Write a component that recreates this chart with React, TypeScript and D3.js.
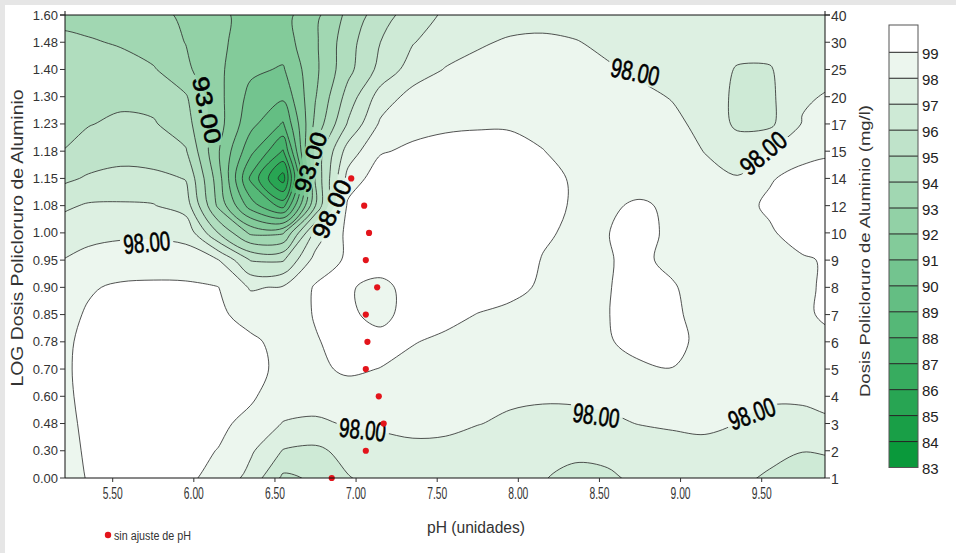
import React from 'react';
import * as d3 from 'd3';

const W = 956;
const H = 553;

// Dose levels of polyaluminium chloride (rows of the response grid, bottom to top)
const doseMg = [1, 2, 3, 4, 5, 6, 7, 8, 9, 10, 12, 14, 15, 17, 20, 25, 30, 40];
const doseLog = ['0.00', '0.30', '0.48', '0.60', '0.70', '0.78', '0.85', '0.90', '0.95', '1.00', '1.08', '1.15', '1.18', '1.23', '1.30', '1.40', '1.48', '1.60'];

// pH columns of the response grid
const phGrid = [5.15, 5.35, 5.55, 5.75, 5.95, 6.15, 6.35, 6.55, 6.75, 6.95, 7.15, 7.35, 7.55, 7.75, 7.95, 8.15, 8.35, 8.55, 8.75, 8.95, 9.15, 9.35, 9.55, 9.75, 9.95];

// Removal (%) along the pH columns, one array per dose level
const dose1mg = [98.55, 99.05, 99.25, 99.25, 99.15, 98.75, 97.65, 95.8, 96.15, 96.95, 97.3, 97.45, 97.45, 97.35, 97.2, 97.05, 96.75, 96.85, 97.2, 97.35, 97.3, 97.15, 96.9, 96.65, 96.6];
const dose2mg = [98.65, 99.1, 99.3, 99.3, 99.2, 98.98, 98.15, 96.95, 96.8, 97.3, 97.55, 97.7, 97.6, 97.55, 97.45, 97.3, 97.2, 97.25, 97.45, 97.55, 97.55, 97.45, 97.2, 97.02, 97.1];
const dose3mg = [98.7, 99.15, 99.4, 99.4, 99.3, 99.15, 98.8, 97.95, 97.8, 98.1, 98.2, 98.35, 98.35, 98.03, 97.85, 97.75, 97.75, 97.85, 98.03, 98.15, 98.3, 97.98, 97.8, 97.8, 97.9];
const dose4mg = [98.75, 99.2, 99.5, 99.55, 99.5, 99.35, 99.1, 98.6, 98.55, 98.65, 98.6, 98.45, 98.35, 98.25, 98.15, 98.1, 98.12, 98.2, 98.3, 98.35, 98.3, 98.2, 98.1, 98.1, 98.2];
const dose5mg = [98.8, 99.2, 99.5, 99.55, 99.55, 99.45, 99.25, 98.8, 98.85, 99.12, 98.98, 98.7, 98.55, 98.5, 98.45, 98.4, 98.45, 98.6, 98.85, 98.98, 98.6, 98.45, 98.4, 98.45, 98.5];
const dose6mg = [98.75, 99.2, 99.45, 99.5, 99.5, 99.4, 99.15, 98.75, 98.95, 99.25, 99.3, 99.05, 98.8, 98.7, 98.6, 98.55, 98.7, 98.92, 99.3, 99.3, 98.7, 98.5, 98.5, 98.7, 98.85];
const dose7mg = [98.6, 99.1, 99.35, 99.45, 99.4, 99.15, 98.7, 98.6, 99.05, 99.15, 98.75, 99.35, 99.3, 98.97, 98.75, 98.6, 98.6, 98.97, 99.4, 99.2, 98.6, 98.4, 98.5, 98.9, 99.15];
const dose8mg = [98.5, 98.9, 99.15, 99.2, 99.2, 99.02, 97.9, 98.1, 99.1, 99.1, 98.7, 99.4, 99.55, 99.5, 99.3, 98.85, 98.6, 98.95, 99.35, 99.1, 98.5, 98.3, 98.4, 98.85, 99.2];
const dose9mg = [97.95, 98.25, 98.4, 98.45, 98.35, 98.05, 95.95, 95.9, 98.4, 99.15, 99.55, 99.7, 99.75, 99.75, 99.6, 98.95, 98.65, 98.95, 99.2, 98.75, 98.4, 98.35, 98.5, 98.85, 99.2];
const dose10mg = [97.35, 97.75, 97.85, 97.85, 97.75, 95.0, 92.8, 92.9, 97.3, 99.3, 99.7, 99.8, 99.85, 99.85, 99.8, 99.15, 98.8, 98.98, 99.3, 98.8, 98.45, 98.55, 98.85, 99.55, 99.7];
const dose12mg = [96.75, 97.1, 97.1, 97.05, 96.55, 92.8, 89.5, 87.6, 94.0, 99.2, 99.65, 99.75, 99.8, 99.8, 99.75, 99.45, 98.85, 98.85, 99.15, 98.8, 98.5, 98.6, 99.2, 99.6, 99.7];
const dose14mg = [95.6, 96.15, 96.4, 96.35, 95.95, 92.5, 87.8, 84.5, 94.2, 98.35, 99.6, 99.6, 99.65, 99.7, 99.65, 99.4, 98.85, 98.6, 98.5, 98.4, 98.2, 98.05, 98.9, 99.4, 99.5];
const dose15mg = [94.95, 95.25, 95.5, 95.3, 95.1, 92.1, 89.3, 86.9, 94.3, 97.45, 98.9, 99.2, 99.3, 99.35, 99.3, 99.02, 98.75, 98.6, 98.45, 98.3, 97.98, 97.6, 98.05, 98.6, 98.8];
const dose17mg = [94.8, 94.97, 95.12, 95.1, 94.4, 92.4, 90.3, 88.9, 93.3, 96.1, 98.15, 98.65, 98.85, 98.9, 98.9, 98.8, 98.7, 98.55, 98.4, 98.2, 97.75, 96.8, 96.8, 98.05, 98.4];
const dose20mg = [94.55, 94.75, 94.85, 94.65, 94.1, 92.3, 90.7, 90.2, 92.95, 95.4, 97.45, 98.35, 98.55, 98.6, 98.6, 98.55, 98.45, 98.35, 98.2, 97.95, 97.55, 96.8, 96.8, 97.9, 98.1];
const dose25mg = [94.35, 94.45, 94.4, 94.1, 93.2, 92.2, 91.2, 90.9, 92.8, 94.7, 96.3, 97.45, 98.05, 98.25, 98.35, 98.35, 98.25, 98.1, 97.85, 97.55, 97.35, 96.95, 96.95, 97.45, 97.75];
const dose30mg = [94.15, 94.1, 93.9, 93.45, 92.98, 92.25, 91.45, 91.5, 92.85, 94.6, 96.0, 96.95, 97.5, 97.9, 98.1, 98.15, 98.05, 97.8, 97.55, 97.4, 97.35, 97.25, 97.25, 97.45, 97.65];
const dose40mg = [93.8, 93.6, 93.45, 93.25, 92.85, 92.25, 91.6, 91.65, 92.75, 94.25, 95.55, 96.5, 97.15, 97.45, 97.65, 97.7, 97.6, 97.45, 97.35, 97.3, 97.3, 97.3, 97.3, 97.4, 97.5];

const removalRows = [dose1mg, dose2mg, dose3mg, dose4mg, dose5mg, dose6mg, dose7mg, dose8mg, dose9mg, dose10mg, dose12mg, dose14mg, dose15mg, dose17mg, dose20mg, dose25mg, dose30mg, dose40mg];

const phTicks = [5.5, 6.0, 6.5, 7.0, 7.5, 8.0, 8.5, 9.0, 9.5];
const contourLevels = [84, 85, 86, 87, 88, 89, 90, 91, 92, 93, 94, 95, 96, 97, 98, 99];
const legendLevels = [99, 98, 97, 96, 95, 94, 93, 92, 91, 90, 89, 88, 87, 86, 85, 84, 83];

// Jar tests without pH adjustment
const samplePh = [6.85, 7.06, 7.17, 7.14, 7.06, 7.07, 7.06, 7.13, 7.06, 7.08, 7.05, 6.97];
const sampleDose = [1, 2, 3, 4, 5, 6, 7, 8, 9, 10, 12, 14];

// Contour annotations (pH, fractional dose row)
const labelText = ['93.00', '93.00', '98.00', '98.00', '98.00', '98.00', '98.00', '98.00', '98.00'];
const labelPh = [6.08, 6.72, 6.85, 5.71, 8.72, 9.51, 7.04, 8.48, 9.44];
const labelRow = [13.51, 11.6, 9.88, 8.63, 14.9, 11.93, 1.76, 2.28, 2.35];

const labelStyle = [
  { angle: 78, len: 68, size: 23 },
  { angle: -72, len: 62, size: 23 },
  { angle: -65, len: 62, size: 24 },
  { angle: -5, len: 47, size: 27 },
  { angle: 12, len: 49, size: 27 },
  { angle: -40, len: 52, size: 26 },
  { angle: 6, len: 47, size: 27 },
  { angle: 8, len: 47, size: 27 },
  { angle: -20, len: 48, size: 27 },
];

const FONT = "'Liberation Sans', Arial, sans-serif";

export default function App() {
  const left = 65, right = 825, top = 15, bottom = 478;
  const x = d3.scaleLinear().domain([5.5, 9.5]).range([112.7, 761.7]);
  const y = d3.scaleLinear().domain([0, doseMg.length - 1]).range([bottom, top]);

  const color = d3
    .scaleLinear<string>()
    .domain([83, 98])
    .range(['#0a993b', '#ecf6ee'])
    .interpolate(d3.interpolateRgb);
  const bandFill = (t: number) => (t >= 99 ? '#ffffff' : color(t));

  // Contour bands from the response grid
  const nx = phGrid.length;
  const ny = removalRows.length;
  const step = phGrid[1] - phGrid[0];
  const values = removalRows.flat();
  const px = (c: number) => x(phGrid[0] + (c - 0.5) * step);
  const py = (c: number) => y(c - 0.5);
  const smooth = d3.line().curve(d3.curveCatmullRomClosed.alpha(0.5));
  const ringPath = (ring: number[][]) => {
    const pts: [number, number][] = [];
    for (const [a, b] of ring.slice(0, -1)) {
      const p: [number, number] = [px(a), py(b)];
      const last = pts[pts.length - 1];
      if (!last || Math.hypot(p[0] - last[0], p[1] - last[1]) > 0.05) pts.push(p);
    }
    if (pts.length > 1) {
      const f = pts[0], l = pts[pts.length - 1];
      if (Math.hypot(f[0] - l[0], f[1] - l[1]) < 0.05) pts.pop();
    }
    return pts.length > 2 ? (smooth(pts) as string) + 'Z' : '';
  };
  const bands = d3.contours().size([nx, ny]).thresholds(contourLevels)(values);
  const bandPaths = bands.map((b) => ({
    value: b.value,
    d: b.coordinates.map((poly) => poly.map((ring) => ringPath(ring as number[][])).join('')).join(''),
  }));

  // Legend geometry
  const legX = 889, legW = 29, legTop = 25, b99 = 52.3, bStep = 25.95;
  const yb = (t: number) => b99 + (99 - t) * bStep;

  const labels = labelText.map((t, i) => ({
    text: t,
    cx: x(labelPh[i]),
    cy: y(labelRow[i]),
    ...labelStyle[i],
  }));

  return (
    <svg
      width={W}
      height={H}
      viewBox={`0 0 ${W} ${H}`}
      style={{ position: 'absolute', left: 0, top: 0, background: '#fff' }}
    >
      <defs>
        <clipPath id="plotClip">
          <rect x={left} y={top} width={right - left} height={bottom - top} />
        </clipPath>
        <mask id="labelMask" maskUnits="userSpaceOnUse" x={0} y={0} width={W} height={H}>
          <rect x={0} y={0} width={W} height={H} fill="#fff" />
          {labels.map((l, i) => (
            <rect
              key={i}
              x={-(l.len + 6) / 2}
              y={-l.size * 0.42}
              width={l.len + 6}
              height={l.size * 0.84}
              fill="#000"
              transform={`translate(${l.cx},${l.cy}) rotate(${l.angle})`}
            />
          ))}
        </mask>
      </defs>

      <rect x={0} y={0} width={W} height={H} fill="#fff" />
      <rect x={0} y={0} width={W} height={5} fill="#e6e6e6" />
      <rect x={0} y={0} width={5} height={H} fill="#e6e6e6" />

      {/* filled contour bands */}
      <g clipPath="url(#plotClip)">
        <rect x={left} y={top} width={right - left} height={bottom - top} fill={color(83)} />
        {bandPaths.map((b) => (
          <path key={`f${b.value}`} d={b.d} fill={bandFill(b.value)} fillRule="evenodd" stroke="none" />
        ))}
        <g mask="url(#labelMask)">
          {bandPaths.map((b) => (
            <path key={`l${b.value}`} d={b.d} fill="none" stroke="#2a2a2a" strokeWidth={0.9} strokeOpacity={0.9} />
          ))}
        </g>
      </g>

      {/* contour labels */}
      {labels.map((l, i) => (
        <text
          key={i}
          transform={`translate(${l.cx},${l.cy}) rotate(${l.angle})`}
          textAnchor="middle"
          dominantBaseline="central"
          fontFamily={FONT}
          fontSize={l.size}
          textLength={l.len}
          lengthAdjust="spacingAndGlyphs"
          fill="#000"
          stroke="#000"
          strokeWidth={0.6}
        >
          {l.text}
        </text>
      ))}

      {/* sample points */}
      {samplePh.map((p, i) => (
        <circle key={i} cx={x(p)} cy={y(doseMg.indexOf(sampleDose[i]))} r={3.1} fill="#e3141b" />
      ))}

      {/* frame */}
      <line x1={left - 5} x2={right + 5} y1={top} y2={top} stroke="#111" strokeWidth={1} />
      <line x1={left} x2={left} y1={top - 4} y2={bottom} stroke="#111" strokeWidth={1} />
      <line x1={right} x2={right} y1={top - 4} y2={bottom} stroke="#111" strokeWidth={1} />
      <line x1={left} x2={right} y1={bottom} y2={bottom} stroke="#111" strokeWidth={1} />

      {/* left axis */}
      {doseLog.map((lab, i) => (
        <g key={lab}>
          <line x1={left - 5} x2={left} y1={y(i)} y2={y(i)} stroke="#333" />
          <text
            x={left - 7}
            y={y(i)}
            textAnchor="end"
            dominantBaseline="central"
            fontFamily={FONT}
            fontSize={13}
            fill="#333"
          >
            {lab}
          </text>
        </g>
      ))}

      {/* right axis */}
      {doseMg.map((d, i) => (
        <g key={d}>
          <line x1={right} x2={right + 5} y1={y(i)} y2={y(i)} stroke="#333" />
          <text
            x={right + 6}
            y={y(i) + 1}
            textAnchor="start"
            dominantBaseline="central"
            fontFamily={FONT}
            fontSize={14}
            fill="#333"
          >
            {d}
          </text>
        </g>
      ))}

      {/* bottom axis */}
      {phTicks.map((t) => (
        <g key={t}>
          <line x1={x(t)} x2={x(t)} y1={bottom} y2={bottom + 4} stroke="#333" />
          <text
            x={x(t)}
            y={bottom + 15}
            textAnchor="middle"
            dominantBaseline="central"
            fontFamily={FONT}
            fontSize={16}
            textLength={20}
            lengthAdjust="spacingAndGlyphs"
            fill="#333"
          >
            {t.toFixed(2)}
          </text>
        </g>
      ))}

      {/* axis titles */}
      <text
        transform="translate(17,238) rotate(-90)"
        textAnchor="middle"
        dominantBaseline="central"
        fontFamily={FONT}
        fontSize={16}
        textLength={297}
        lengthAdjust="spacingAndGlyphs"
        fill="#333"
      >
        LOG Dosis Policloruro de Aluminio
      </text>
      <text
        transform="translate(864,251) rotate(-90)"
        textAnchor="middle"
        dominantBaseline="central"
        fontFamily={FONT}
        fontSize={15}
        textLength={292}
        lengthAdjust="spacingAndGlyphs"
        fill="#333"
      >
        Dosis Policloruro de Aluminio (mg/l)
      </text>
      <text
        x={476}
        y={527}
        textAnchor="middle"
        dominantBaseline="central"
        fontFamily={FONT}
        fontSize={16}
        textLength={98}
        lengthAdjust="spacingAndGlyphs"
        fill="#333"
      >
        pH (unidades)
      </text>

      {/* sample legend */}
      <circle cx={108} cy={535} r={3.2} fill="#e3141b" />
      <text
        x={114}
        y={536}
        dominantBaseline="central"
        fontFamily={FONT}
        fontSize={12.5}
        textLength={77}
        lengthAdjust="spacingAndGlyphs"
        fill="#333"
      >
        sin ajuste de pH
      </text>

      {/* colour legend */}
      <rect x={legX} y={legTop} width={legW} height={yb(99) - legTop} fill="#ffffff" />
      {legendLevels.slice(1).map((t) => (
        <rect key={t} x={legX} y={yb(t + 1)} width={legW} height={bStep} fill={bandFill(t)} />
      ))}
      {legendLevels.slice(0, -1).map((t) => (
        <line key={t} x1={legX} x2={legX + legW} y1={yb(t)} y2={yb(t)} stroke="#222" strokeWidth={1} />
      ))}
      <rect
        x={legX}
        y={legTop}
        width={legW}
        height={yb(83) - legTop}
        fill="none"
        stroke="#555"
        strokeWidth={1}
      />
      {legendLevels.map((t) => (
        <text
          key={t}
          x={legX + legW + 4}
          y={yb(t) + 1}
          dominantBaseline="central"
          fontFamily={FONT}
          fontSize={15}
          fill="#222"
        >
          {t}
        </text>
      ))}
    </svg>
  );
}
